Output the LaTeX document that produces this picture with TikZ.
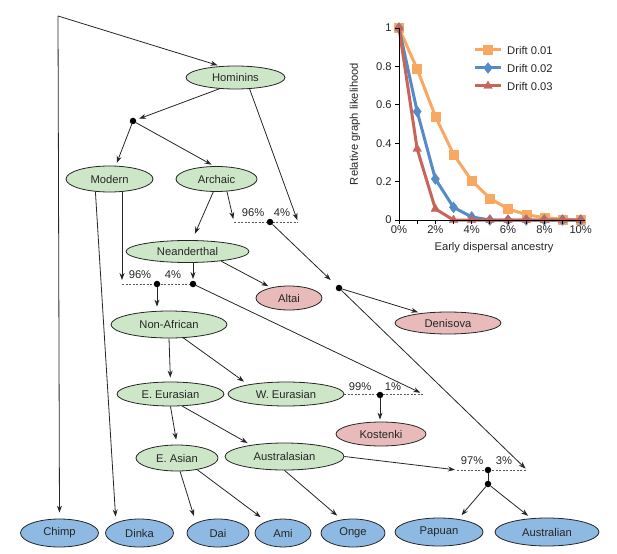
\documentclass[tikz,border=0pt]{standalone}
\usepackage{fontspec}
\setmainfont{Liberation Sans}
\usetikzlibrary{shapes.geometric,arrows.meta,plotmarks}
\definecolor{popgreen}{RGB}{205,230,200}
\definecolor{poppink}{RGB}{232,186,186}
\definecolor{popblue}{RGB}{141,185,226}
\definecolor{serO}{RGB}{248,168,96}
\definecolor{serB}{RGB}{85,140,200}
\definecolor{serR}{RGB}{200,100,90}
\begin{document}
\begin{tikzpicture}[x=1pt,y=-1pt,
  font=\fontsize{11.2}{13}\selectfont,
  every node/.style={text=black!85},
  pop/.style={ellipse,draw=black!85,line width=0.8pt,inner sep=0pt},
  grn/.style={pop,fill=popgreen},
  pnk/.style={pop,fill=poppink},
  blu/.style={pop,fill=popblue},
  jn/.style={circle,fill=black,inner sep=0pt,minimum size=6.5pt},
  arr/.style={draw=black!85,line width=0.8pt,-{Stealth[length=7pt,width=5pt]},shorten >=3pt},
  ln/.style={draw=black!85,line width=0.8pt},
  bar/.style={draw=black!65,line width=0.75pt,dash pattern=on 2pt off 1.5pt},
  pct/.style={inner sep=0pt},
  series/.style={line width=3pt,line join=round},
]
\useasboundingbox (0,0) rectangle (617,553);

% ---------------- nodes ----------------
\node[grn,minimum width=99pt,minimum height=23pt] (hom) at (235.5,77.5) {Hominins};
\node[grn,minimum width=87pt,minimum height=26pt] (mod) at (109.5,179) {Modern};
\node[grn,minimum width=81pt,minimum height=25pt] (arc) at (216.5,179) {Archaic};
\node[grn,minimum width=123pt,minimum height=22pt] (nea) at (187.5,251.5) {Neanderthal};
\node[pnk,minimum width=66pt,minimum height=24pt] (alt) at (289,298) {Altai};
\node[pnk,minimum width=106pt,minimum height=22pt] (den) at (448,323) {Denisova};
\node[grn,minimum width=116pt,minimum height=27pt] (naf) at (169,324.5) {Non-African};
\node[grn,minimum width=107pt,minimum height=24pt] (eeu) at (170.5,394) {E. Eurasian};
\node[grn,minimum width=116pt,minimum height=24pt] (weu) at (286,394) {W. Eurasian};
\node[pnk,minimum width=90pt,minimum height=24pt] (kos) at (381,434) {Kostenki};
\node[grn,minimum width=82pt,minimum height=26pt] (eas) at (177,458) {E. Asian};
\node[grn,minimum width=119pt,minimum height=27pt] (aus) at (284.5,456.5) {Australasian};
\node[blu,minimum width=78pt,minimum height=28pt] (chi) at (59.5,533) {Chimp};
\node[blu,minimum width=68pt,minimum height=28pt] (din) at (139.5,533) {Dinka};
\node[blu,minimum width=62pt,minimum height=28pt] (dai) at (218,533) {Dai};
\node[blu,minimum width=56pt,minimum height=28pt] (ami) at (283,533) {Ami};
\node[blu,minimum width=64pt,minimum height=28pt] (ong) at (353,533) {Onge};
\node[blu,minimum width=88pt,minimum height=28pt] (pap) at (439,532) {Papuan};
\node[blu,minimum width=104pt,minimum height=28pt] (aul) at (547,532) {Australian};

% ---------------- coordinates ----------------
\coordinate (corner) at (58,16);
\coordinate (b1L) at (234,222);
\coordinate (b1R) at (298,222);
\coordinate (b2L) at (122,284);
\coordinate (b2R) at (193,284);
\coordinate (b3R) at (423,394);
\coordinate (b4L) at (457,470);
\coordinate (b4R) at (527,470);

% ---------------- bars ----------------
\draw[bar] (b1L) -- (b1R);
\draw[bar] (b2L) -- (b2R);
\draw[bar] (weu.east) -- (b3R);
\draw[bar] (b4L) -- (b4R);

% ---------------- junction dots ----------------
\node[jn] (j0) at (133,121) {};
\node[jn] (j1) at (270,222) {};
\node[jn] (j2) at (157,284) {};
\node[jn] (j2r) at (b2R) {};
\node[jn] (jd) at (339,288) {};
\node[jn] (j3) at (380,395) {};
\node[jn] (j4) at (488,470) {};
\node[jn] (j5) at (488,484) {};

% ---------------- percentages ----------------
\node[pct] (p1a) at (253,213) {96\%};
\node[pct] (p1b) at (282,213) {4\%};
\node[pct] (p2a) at (140,275) {96\%};
\node[pct] (p2b) at (173,275) {4\%};
\node[pct] (p3a) at (360,387) {99\%};
\node[pct] (p3b) at (393,387) {1\%};
\node[pct] (p4a) at (472,461) {97\%};
\node[pct] (p4b) at (504,461) {3\%};

% ---------------- edges ----------------
\draw[arr] (corner) -- (hom.143);
\draw[arr,shorten >=6pt] (corner) -- (chi.north);
\draw[arr] (hom.215) -- (j0);
\draw[arr] (j0) -- (mod.65);
\draw[arr] (j0) -- (arc.100);
\draw[arr,shorten >=7pt] (arc.256) -- (nea.68);
\draw[arr] (arc.310) -- (b1L);
\draw[arr,shorten >=2pt] (hom.321) -- (b1R);
\draw[arr,shorten >=8pt] (j1) -- (jd);
\draw[arr] (jd) -- (den.160);
\draw[arr,shorten >=2pt] (jd) -- (b4R);
\draw[arr,shorten >=4pt] (mod.south -| b2L) -- (b2L);
\draw[arr,shorten >=6pt] (mod.222) -- (din.156);
\draw[arr,shorten >=1.5pt] (nea.south -| b2R) -- (j2r);
\draw[arr] (nea.344) -- (alt.150);
\draw[arr,shorten >=4pt] (j2) -- (j2 |- naf.north);
\draw[arr] (j2r) -- (b3R);
\draw[arr,shorten >=4pt] (naf.south) -- (eeu.north);
\draw[arr,shorten >=5pt] (naf.317) -- (weu.166);
\draw[arr,shorten >=2pt] (j3) -- (j3 |- kos.north);
\draw[arr,shorten >=5pt] (eeu.south) -- (eas.north);
\draw[arr,shorten >=4pt] (eeu.314) -- (aus.161);
\draw[arr,shorten >=7pt] (eas.283) -- (dai.155);
\draw[arr,shorten >=7pt] (eas.330) -- (ami.145);
\draw[arr,shorten >=6pt] (aus.south) -- (ong.130);
\draw[arr,shorten >=2pt] (aus.east) -- (b4L);
\draw[ln] (j4) -- (j5);
\draw[arr,shorten >=5pt] (j5) -- (pap.34);
\draw[arr,shorten >=4pt] (j5) -- (aul.139);

% ---------------- chart ----------------
\begin{scope}[shift={(399,220)},x=18.17pt,y=192pt]
  \draw[series,serO] plot[mark=square*,mark size=4.5pt,mark options={line width=0.4pt,fill=serO,draw=serO}] coordinates
    {(0,1)(1,.786)(2,.54)(3,.342)(4,.205)(5,.113)(6,.058)(7,.028)(8,.012)(9,.004)(10,0)};
  \draw[series,serB] plot[mark=diamond*,mark size=5.5pt,mark options={line width=0.4pt,fill=serB,draw=serB}] coordinates
    {(0,1)(1,.565)(2,.214)(3,.066)(4,.016)(5,0)(6,0)(7,0)(8,0)(9,0)(10,0)};
  \draw[series,serR] plot[mark=triangle*,mark size=5pt,mark options={line width=0.4pt,fill=serR,draw=serR}] coordinates
    {(0,1)(1,.37)(2,.058)(3,0)(4,0)(5,0)(6,0)(7,0)(8,0)(9,0)(10,0)};
  \draw[line width=0.8pt] (0,1) -- (0,0) -- (10.25,0);
  \foreach \v in {0,0.2,0.4,0.6,0.8,1}
    \draw[line width=0.8pt] (0,\v) -- ++(-4pt,0) node[left,inner sep=3pt] {\v};
  \foreach \p in {0,...,10}
    \draw[line width=0.8pt] (\p,0) -- ++(0,-4pt);
  \foreach \p in {0,2,4,6,8,10}
    \node[inner sep=0pt] at ([yshift=-10pt]\p,0) {\p\%};
\end{scope}
\node[rotate=90] (ytitle) at (355,124) {Relative graph likelihood};
\node (xtitle) at (494,248) {Early dispersal ancestry};

% legend
\draw[series,serO] (475,50) -- (501,50) plot[mark=square*,mark size=4.5pt,mark options={line width=0.4pt,fill=serO,draw=serO}] coordinates {(488,50)};
\draw[series,serB] (475,68) -- (501,68) plot[mark=diamond*,mark size=5.5pt,mark options={line width=0.4pt,fill=serB,draw=serB}] coordinates {(488,68)};
\draw[series,serR] (475,86) -- (501,86) plot[mark=triangle*,mark size=5pt,mark options={line width=0.4pt,fill=serR,draw=serR}] coordinates {(488,86)};
\node[anchor=west,inner sep=0pt] (l1) at (507,50) {Drift 0.01};
\node[anchor=west,inner sep=0pt] (l2) at (507,68) {Drift 0.02};
\node[anchor=west,inner sep=0pt] (l3) at (507,86) {Drift 0.03};
\end{tikzpicture}
\end{document}
